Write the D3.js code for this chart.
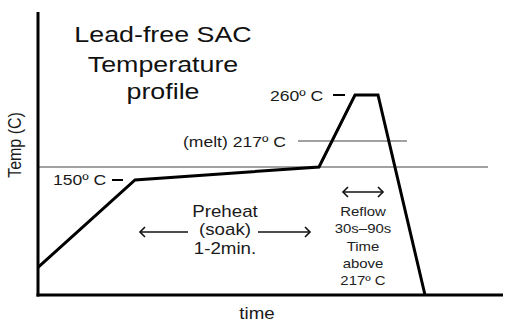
<!DOCTYPE html>
<html><head><meta charset="utf-8">
<script src="https://cdn.jsdelivr.net/npm/d3@7"></script>
<style>
html,body{margin:0;padding:0;background:#fff;}
svg{display:block;font-family:"Liberation Sans",Arial,sans-serif;}
</style></head>
<body><svg id="c" width="514" height="330"></svg>
<script>
// Profile data (time in s, temperature in °C) – schematic
const timeVals = [0, 97, 281, 317, 340, 387];
const tempVals = [55, 150, 183, 260, 260, 25];
// Reference levels
const levelTemps = [150, 183, 217, 260];
const levelLabels = ["150º C", "", "(melt) 217º C", "260º C"];
const titleLines = ["Lead-free SAC", "Temperature", "profile"];
const preheatLines = ["Preheat", "(soak)", "1-2min."];
const reflowLines = ["Reflow", "30s\u201390s", "Time", "above", "217º C"];

const svg = d3.select("#c");
const x = d3.scaleLinear().domain([0, 465]).range([38, 503]);
const y = d3.scaleLinear().domain([25, 150, 183, 217, 260, 338]).range([295, 180, 167, 141, 95, 12]);

const SX = 1.17;
function txt(px, py, s, size, anchor, sx, color) {
  return svg.append("text")
    .attr("transform", `translate(${px},${py}) scale(${sx || SX},1)`)
    .attr("text-anchor", anchor || "start")
    .attr("font-size", size)
    .attr("fill", color || "#1a1a1a")
    .text(s);
}

// reference lines
svg.append("line").attr("x1", x(0)).attr("x2", x(450)).attr("y1", y(183)).attr("y2", y(183))
  .attr("stroke", "#444").attr("stroke-width", 1.2);
svg.append("line").attr("x1", x(260)).attr("x2", x(369)).attr("y1", y(217)).attr("y2", y(217))
  .attr("stroke", "#444").attr("stroke-width", 1.2);

// axes
svg.append("line").attr("x1", x(0)).attr("x2", x(0)).attr("y1", y(338)).attr("y2", y(25) + 1.5)
  .attr("stroke", "#000").attr("stroke-width", 3);
svg.append("line").attr("x1", x(0) - 1.5).attr("x2", x(465)).attr("y1", y(25)).attr("y2", y(25))
  .attr("stroke", "#000").attr("stroke-width", 3);

// profile
const line = d3.line().x((d, i) => x(timeVals[i])).y(d => y(d));
svg.append("path").datum(tempVals).attr("d", line)
  .attr("fill", "none").attr("stroke", "#000").attr("stroke-width", 3).attr("stroke-linejoin", "miter");

// level labels with dashes
txt(x(15), y(150) + 5, levelLabels[0], 15, "start");
svg.append("line").attr("x1", x(74)).attr("x2", x(85)).attr("y1", y(150)).attr("y2", y(150)).attr("stroke", "#000").attr("stroke-width", 2);
txt(x(145), y(217) + 6, levelLabels[2], 15, "start");
txt(x(232), y(260) + 6, levelLabels[3], 15, "start");
svg.append("line").attr("x1", x(295)).attr("x2", x(307)).attr("y1", y(260)).attr("y2", y(260)).attr("stroke", "#000").attr("stroke-width", 2);

// title
titleLines.forEach((s, i) => txt(163, [42, 72, 99][i], s, 22, "middle", 1.22, "#111"));

// preheat annotation
preheatLines.forEach((s, i) => txt(225, [217, 235, 254][i], s, 16, "middle"));
function arrow(x1, x2, yy, heads) {
  svg.append("line").attr("x1", x1).attr("x2", x2).attr("y1", yy).attr("y2", yy).attr("stroke", "#111").attr("stroke-width", 1.4);
  heads.forEach(h => {
    const xx = h === "l" ? x1 : x2, d = h === "l" ? 5 : -5;
    svg.append("path").attr("d", `M${xx + d},${yy - 5}L${xx},${yy}L${xx + d},${yy + 5}`)
      .attr("fill", "none").attr("stroke", "#111").attr("stroke-width", 1.6);
  });
}
arrow(x(102), x(150), 232, ["l"]);
arrow(x(220), x(272), 232, ["r"]);
arrow(x(305), x(345), 192, ["l", "r"]);

// reflow annotation
reflowLines.forEach((s, i) => txt(363, 216 + i * 17.3, s, 13, "middle", 1.15, "#222"));

// axis titles
svg.append("text").attr("transform", "translate(21,145) rotate(-90) scale(1,1.15)").attr("text-anchor", "middle")
  .attr("font-size", 16).attr("fill", "#1a1a1a").text("Temp (C)");
txt(257, 319, "time", 16, "middle");
</script></body></html>
